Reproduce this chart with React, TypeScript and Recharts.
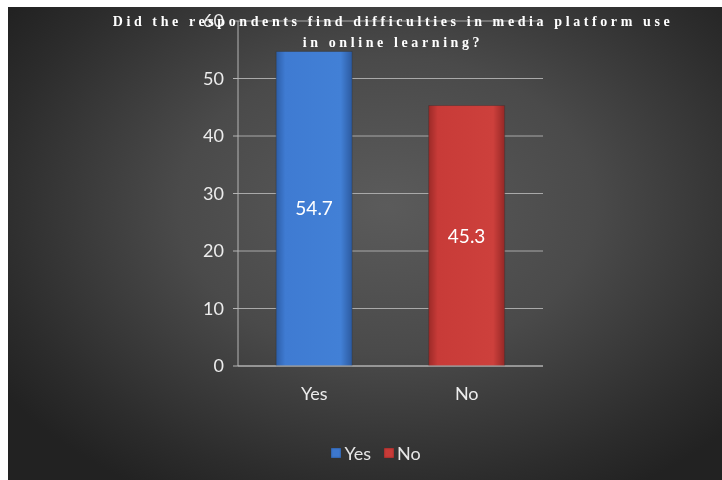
import React from 'react';
import {
  BarChart,
  Bar,
  XAxis,
  YAxis,
  CartesianGrid,
  LabelList,
  Cell,
  Legend,
} from 'recharts';

const answers = ['Yes', 'No'];
const percents = [54.7, 45.3];
const yTicks = [0, 10, 20, 30, 40, 50, 60];
const barColors = ['#3d78cf', '#c83b38'];

const data = answers.map((a, i) => ({ name: a, value: percents[i] }));

const W = 714;
const H = 473;

const LegendBox = () => (
  <div
    style={{
      display: 'flex',
      justifyContent: 'center',
      gap: 13,
      fontFamily: 'Lato, "Open Sans", sans-serif',
      fontSize: 18,
      color: '#e6e6e6',
      paddingLeft: 22,
    }}
  >
    {answers.map((a, i) => (
      <span key={a} style={{ display: 'flex', alignItems: 'center', gap: 3 }}>
        <span
          style={{
            width: 10,
            height: 10,
            background: barColors[i],
            boxShadow: 'inset 0 0 2px rgba(0,0,0,0.5)',
            display: 'inline-block',
          }}
        />
        {a}
      </span>
    ))}
  </div>
);

export default function App() {
  return (
    <div
      style={{
        position: 'fixed',
        left: 8,
        top: 7,
        width: W,
        height: H,
        background:
          'radial-gradient(ellipse 65% 70% at 53% 42%, #5b5b5b 0%, #4a4a4a 45%, #2c2c2c 85%, #222 100%)',
      }}
    >
      <BarChart
        width={W}
        height={H}
        data={data}
        margin={{ top: 14, right: 179, left: 170, bottom: 52 }}
        barCategoryGap="25%"
      >
        <defs>
          <linearGradient id="gBlue" x1="0" y1="0" x2="1" y2="0">
            <stop offset="0%" stopColor="#2d5ea8" />
            <stop offset="12%" stopColor="#3f7bd2" />
            <stop offset="85%" stopColor="#4280d6" />
            <stop offset="100%" stopColor="#2c5aa0" />
          </linearGradient>
          <linearGradient id="gRed" x1="0" y1="0" x2="1" y2="0">
            <stop offset="0%" stopColor="#9c2a28" />
            <stop offset="12%" stopColor="#c83b38" />
            <stop offset="85%" stopColor="#cd403c" />
            <stop offset="100%" stopColor="#962826" />
          </linearGradient>
        </defs>
        <CartesianGrid vertical={false} stroke="#a9a9a9" strokeWidth={1} />
        <XAxis
          xAxisId={0}
          type="number"
          domain={[0, 2]}
          ticks={[0, 1, 2]}
          tick={false}
          axisLine={{ stroke: '#b5b5b5' }}
          tickLine={{ stroke: '#b5b5b5' }}
          tickSize={6}
          height={6}
        />
        <XAxis
          xAxisId="cat"
          dataKey="name"
          tickLine={false}
          axisLine={false}
          tick={{ fill: '#ececec', fontSize: 18, fontFamily: 'Lato, "Open Sans", sans-serif' }}
          tickMargin={9}
          height={34}
        />
        <YAxis
          domain={[0, 60]}
          ticks={yTicks}
          width={60}
          axisLine={{ stroke: '#b5b5b5' }}
          tickLine={{ stroke: '#b5b5b5' }}
          tickSize={5}
          tick={{ fill: '#ececec', fontSize: 18, fontFamily: 'Lato, "Open Sans", sans-serif' }}
          tickMargin={9}
        />
        <Legend
          verticalAlign="bottom"
          content={<LegendBox />}
          wrapperStyle={{ bottom: 16, left: 0, width: W }}
        />
        <Bar
          xAxisId="cat"
          dataKey="value"
          isAnimationActive={false}
          stroke="#333"
          strokeOpacity={0.4}
        >
          {data.map((d, i) => (
            <Cell key={d.name} fill={i === 0 ? 'url(#gBlue)' : 'url(#gRed)'} />
          ))}
          <LabelList
            dataKey="value"
            position="center"
            fill="#ffffff"
            fontSize={19}
            fontFamily='Lato, "Open Sans", sans-serif'
          />
        </Bar>
      </BarChart>
      <div
        style={{
          position: 'absolute',
          left: 0,
          top: 4,
          width: 770,
          textAlign: 'center',
          fontFamily: '"Liberation Serif", "DejaVu Serif", serif',
          fontWeight: 'bold',
          fontSize: 14,
          letterSpacing: 3.6,
          lineHeight: '21px',
          color: '#ffffff',
        }}
      >
        Did the respondents find difficulties in media platform use
        <br />
        in online learning?
      </div>
    </div>
  );
}
